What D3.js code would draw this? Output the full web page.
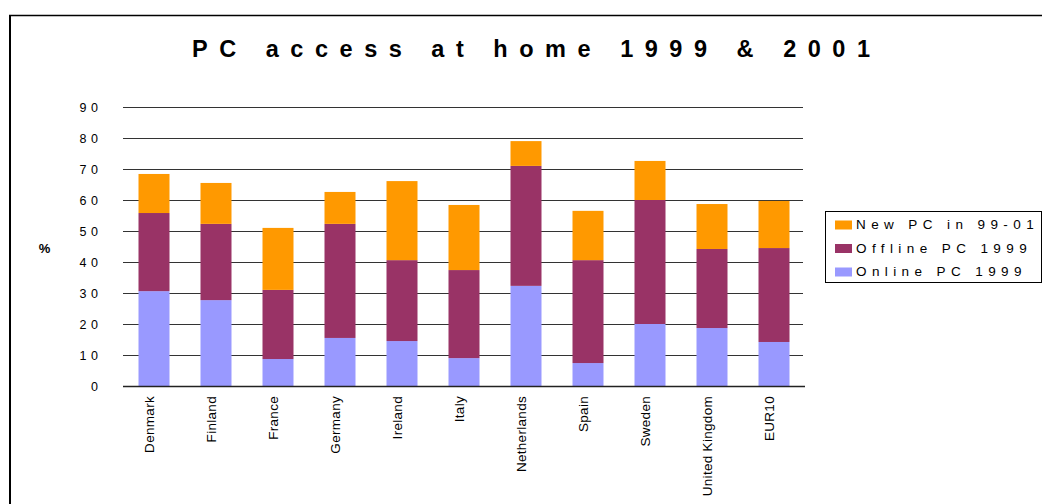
<!DOCTYPE html>
<html>
<head>
<meta charset="utf-8">
<script src="https://cdn.jsdelivr.net/npm/d3@7"></script>
<style>
  html, body { margin: 0; padding: 0; background: #fff; }
  svg { display: block; font-family: "Liberation Sans", Arial, sans-serif; }
</style>
</head>
<body>
<svg id="chart" width="1042" height="504"></svg>
<script>
// Share of households with a PC at home (%)
const countries = ["Denmark", "Finland", "France", "Germany", "Ireland", "Italy",
  "Netherlands", "Spain", "Sweden", "United Kingdom", "EUR10"];
const onlinePC1999  = [30.6, 27.7, 8.7, 15.5, 14.5, 9.0, 32.3, 7.4, 20.0, 18.7, 14.2];
const offlinePC1999 = [25.2, 24.6, 22.3, 36.8, 26.1, 28.4, 38.7, 33.2, 40.0, 25.5, 30.3];
const newPC9901     = [12.6, 13.2, 20.0, 10.3, 25.5, 21.0, 8.0, 15.9, 12.6, 14.5, 15.2];
const seriesNames   = ["Online PC 1999", "Offline PC 1999", "New PC in 99-01"];
const seriesColors  = ["#9999FF", "#993366", "#FF9900"];
const yTicks        = [0, 10, 20, 30, 40, 50, 60, 70, 80, 90];
const chartTitle    = "PC access at home 1999 & 2001";

const svg = d3.select("#chart");

// outer frame
svg.append("line").attr("x1", 9).attr("x2", 1042).attr("y1", 15.5).attr("y2", 15.5)
  .attr("stroke", "#000").attr("stroke-width", 1.5);
svg.append("line").attr("x1", 10).attr("x2", 10).attr("y1", 15).attr("y2", 504)
  .attr("stroke", "#000").attr("stroke-width", 2);

// title
svg.append("text")
  .attr("x", 192).attr("y", 57)
  .attr("textLength", 678).attr("lengthAdjust", "spacing")
  .style("font-size", "23.5px").style("font-weight", "bold")
  .text(chartTitle);

const x = d3.scaleBand().domain(countries).range([123, 805])
  .paddingInner(0.5).paddingOuter(0.25);
const y = d3.scaleLinear().domain([0, 90]).range([386, 107]);

// gridlines
svg.append("g").selectAll("line").data(yTicks.filter(t => t > 0)).join("line")
  .attr("x1", 123).attr("x2", 803)
  .attr("y1", d => Math.round(y(d)) + 0.5).attr("y2", d => Math.round(y(d)) + 0.5)
  .attr("stroke", "#333").attr("stroke-width", 1);

// stacked bars
const rows = countries.map((c, i) => ({
  country: c, online: onlinePC1999[i], offline: offlinePC1999[i], fresh: newPC9901[i]
}));
const stack = d3.stack().keys(["online", "offline", "fresh"]);
const layers = stack(rows);

svg.append("g").selectAll("g").data(layers).join("g")
  .attr("fill", (d, i) => seriesColors[i])
  .selectAll("rect").data(d => d).join("rect")
  .attr("x", d => x(d.data.country))
  .attr("width", x.bandwidth())
  .attr("y", d => y(d[1]))
  .attr("height", d => y(d[0]) - y(d[1]));

// zero line
svg.append("line").attr("x1", 123).attr("x2", 805)
  .attr("y1", 386.5).attr("y2", 386.5)
  .attr("stroke", "#222").attr("stroke-width", 1.5);

// y axis labels
const yAxis = d3.axisLeft(y).tickValues(yTicks).tickSize(0).tickPadding(0)
  .tickFormat(d3.format("d"));
const yg = svg.append("g").attr("transform", "translate(98,0)").call(yAxis);
yg.select(".domain").remove();
yg.selectAll("text")
  .style("font-size", "12.5px").style("font-family", "Liberation Sans, Arial, sans-serif")
  .attr("fill", "#000")
  .each(function (d) {
    if (String(d).length > 1) {
      d3.select(this).attr("textLength", 18.5).attr("lengthAdjust", "spacing");
    }
  });

// y axis unit
svg.append("text").attr("x", 44.5).attr("y", 253)
  .attr("text-anchor", "middle")
  .style("font-size", "13px").style("font-weight", "bold")
  .text("%");

// x axis labels (rotated)
svg.append("g").selectAll("text").data(countries).join("text")
  .attr("transform", d => `translate(${x(d) + x.bandwidth() / 2 - 0.5},396) rotate(-90)`)
  .attr("text-anchor", "end")
  .style("font-size", "13.5px")
  .style("letter-spacing", "0.3px")
  .text(d => d);

// legend
const legend = svg.append("g");
legend.append("rect").attr("x", 825.5).attr("y", 211.5).attr("width", 216).attr("height", 71)
  .attr("fill", "#fff").attr("stroke", "#000").attr("stroke-width", 1);
const legendOrder = [2, 1, 0];
legendOrder.forEach((s, i) => {
  const top = 220.5 + i * 23.5;
  legend.append("rect").attr("x", 835).attr("y", top).attr("width", 17).attr("height", 9)
    .attr("fill", seriesColors[s]);
  legend.append("text").attr("x", 856).attr("y", top + 8.5)
    .style("font-size", "13.5px").style("letter-spacing", "5.4px")
    .text(seriesNames[s]);
});
</script>
</body>
</html>
